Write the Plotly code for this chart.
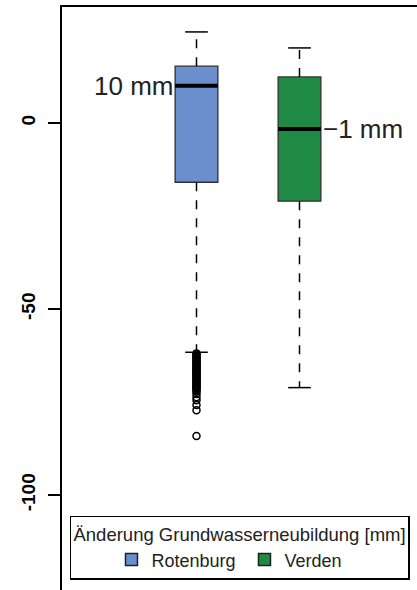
import plotly.graph_objects as go

# ---- data ----
regions = ["Rotenburg", "Verden"]
positions = [1, 2]
upper_whisker = [24.5, 20.2]
q3 = [15.3, 12.4]
median = [10.0, -1.6]
q1 = [-15.9, -21.0]
lower_whisker = [-61.6, -71.1]
median_labels = ["10 mm", "\u22121 mm"]
fill_colors = ["#6A8FCC", "#1F8A43"]
rotenburg_outliers = [
    -61.9, -62.2, -62.5, -62.8, -63.1, -63.4, -63.7, -64.0, -64.3, -64.6,
    -64.9, -65.2, -65.5, -65.8, -66.1, -66.4, -66.7, -67.0, -67.3, -67.6,
    -67.9, -68.2, -68.5, -68.8, -69.1, -69.4, -69.7, -70.0, -70.3, -70.6,
    -70.9, -71.2, -71.5, -71.8, -72.2, -72.8, -73.7, -74.5, -75.8, -77.2,
    -84.1,
]
verden_outliers = []
outliers = [rotenburg_outliers, verden_outliers]
tick_vals = [-100, -50, 0]
tick_text = ["-100", "-50", "0"]
legend_title = "\u00c4nderung Grundwasserneubildung [mm]"

BOX_W = 0.415
CAP_W = 0.22
FONT = "Liberation Sans, Arial, sans-serif"

fig = go.Figure()

for i, name in enumerate(regions):
    x0 = positions[i]
    # whiskers (dashed)
    fig.add_trace(go.Scatter(x=[x0, x0, None, x0, x0],
                             y=[q3[i], upper_whisker[i], None, q1[i], lower_whisker[i]],
                             mode="lines", line=dict(color="black", width=1.5, dash="dash"),
                             showlegend=False, hoverinfo="skip"))
    # caps
    fig.add_trace(go.Scatter(x=[x0 - CAP_W / 2, x0 + CAP_W / 2, None, x0 - CAP_W / 2, x0 + CAP_W / 2],
                             y=[upper_whisker[i], upper_whisker[i], None, lower_whisker[i], lower_whisker[i]],
                             mode="lines", line=dict(color="black", width=1.5),
                             showlegend=False, hoverinfo="skip"))
    # box
    fig.add_trace(go.Box(x=[x0], q1=[q1[i]], median=[median[i]], q3=[q3[i]],
                         lowerfence=[q1[i]], upperfence=[q3[i]],
                         width=BOX_W, fillcolor=fill_colors[i],
                         line=dict(color="#303030", width=1.3),
                         showlegend=False, hoverinfo="skip", name=name))
    # median (thick)
    fig.add_trace(go.Scatter(x=[x0 - BOX_W / 2, x0 + BOX_W / 2], y=[median[i], median[i]],
                             mode="lines", line=dict(color="black", width=4),
                             showlegend=False, hoverinfo="skip"))
    # outliers
    if outliers[i]:
        fig.add_trace(go.Scatter(x=[x0] * len(outliers[i]), y=outliers[i], mode="markers",
                                 marker=dict(symbol="circle-open", size=7, color="black",
                                             line=dict(width=1.5)),
                                 showlegend=False, hoverinfo="skip"))
    # median label
    if i == 0:
        fig.add_annotation(x=x0 - BOX_W / 2, y=median[i], text=median_labels[i],
                           xanchor="right", yanchor="middle", showarrow=False, xshift=0,
                           font=dict(family=FONT, size=26, color="#222"))
    else:
        fig.add_annotation(x=x0 + BOX_W / 2, y=median[i], text=median_labels[i],
                           xanchor="left", yanchor="middle", showarrow=False, xshift=0,
                           font=dict(family=FONT, size=26, color="#222"))
    # legend entries
    fig.add_trace(go.Scatter(x=[None], y=[None], mode="markers", name=name,
                             marker=dict(symbol="square", size=12, color=fill_colors[i],
                                         line=dict(color="#202020", width=1.5))))

fig.update_layout(
    width=417, height=590,
    margin=dict(l=62, r=0, t=7, b=0, autoexpand=False),
    paper_bgcolor="white", plot_bgcolor="white",
    showlegend=True,
    xaxis=dict(range=[-0.306, 3.141], showgrid=False, zeroline=False,
               showticklabels=False, ticks="", side="top",
               showline=True, linecolor="black", linewidth=1.8),
    yaxis=dict(range=[-125.5, 31.2], showgrid=False, zeroline=False,
               tickvals=tick_vals, ticktext=tick_text, tickangle=-90,
               ticks="outside", ticklen=12, tickwidth=1.5, tickcolor="black",
               ticklabelstandoff=6,
               tickfont=dict(family=FONT, size=19, color="black", weight="bold"),
               showline=True, linecolor="black", linewidth=1.8),
    legend=dict(orientation="h", x=0.0225, y=0.1274, xanchor="left", yanchor="top",
                bgcolor="white", bordercolor="black", borderwidth=1.5,
                font=dict(family=FONT, size=18, color="#222"),
                title=dict(text=legend_title, side="top",
                           font=dict(family=FONT, size=18.5, color="#222")),
                indentation=40, entrywidth=48),
)

fig.write_html("out.html")
